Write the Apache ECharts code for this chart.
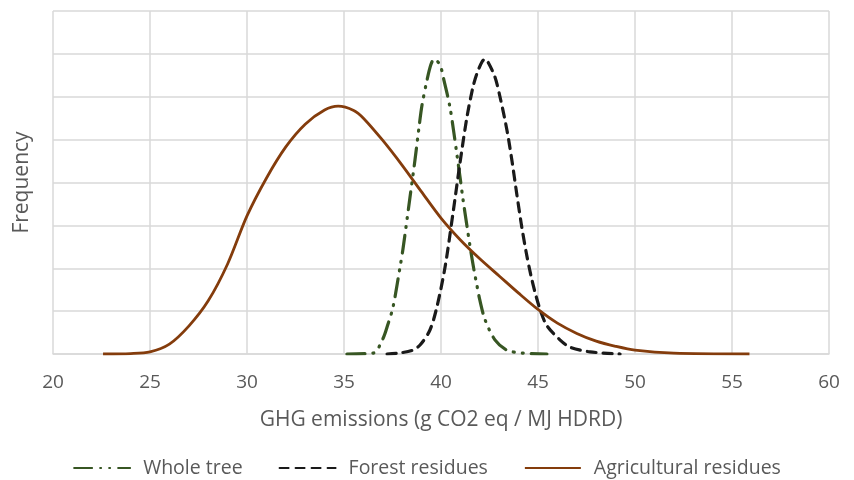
<!DOCTYPE html>
<html>
<head>
<meta charset="utf-8">
<script src="https://cdn.jsdelivr.net/npm/echarts@6/dist/echarts.min.js"></script>
<style>html,body{margin:0;padding:0;background:#fff}#c{width:854px;height:480px}</style>
</head>
<body>
<div id="c"></div>
<script>
const xTicks = [20, 25, 30, 35, 40, 45, 50, 55, 60];
const seriesNames = ['Whole tree', 'Forest residues', 'Agricultural residues'];
const wholeTree = [
  [35.15,0],[36.5,0.02],[37.0,0.35],[37.27,0.7],[37.53,1.1],[37.89,2.03],[38.04,2.45],[38.4,3.65],
  [38.66,4.53],[38.87,5.3],[39.02,5.8],[39.28,6.39],[39.48,6.75],[39.65,6.88],[39.95,6.74],[40.15,6.39],
  [40.46,5.76],[40.67,5.14],[40.83,4.62],[40.98,4.13],[41.13,3.62],[41.34,2.98],[41.5,2.5],
  [41.7,1.96],[41.86,1.58],[42.0,1.26],[42.27,0.8],[42.78,0.33],[43.4,0.09],[44.23,0.02],[45.46,0]
];
const forestResidues = [
  [37.22,0],[37.78,0.02],[38.5,0.08],[38.92,0.21],[39.43,0.56],[39.79,1.1],[40.21,2.03],[40.62,3.29],
  [40.98,4.46],[41.34,5.53],[41.65,6.23],[41.86,6.55],[42.11,6.81],
  [42.27,6.88],[42.42,6.81],[42.78,6.46],[43.04,6.0],[43.4,5.22],[43.66,4.5],[43.9,3.75],
  [44.15,3.0],[44.4,2.35],[44.65,1.8],[44.9,1.35],[45.15,0.98],[45.46,0.66],[46.13,0.33],[46.65,0.16],
  [47.68,0.05],[49.23,0]
];
const agriculturalResidues = [
  [22.58,0],[24,0.01],[25,0.05],[26,0.23],[27,0.65],[28,1.24],[29,2.1],[30,3.22],[31,4.1],[32,4.83],
  [33,5.36],[34,5.69],[34.7,5.78],[35.5,5.68],[36,5.5],[37,4.98],[38,4.4],[39,3.78],[40,3.17],[41,2.66],
  [42,2.22],[43,1.82],[44,1.42],[45,1.04],[46,0.72],[47,0.48],[48,0.3],[49,0.18],[50,0.09],[52,0.02],[55.9,0]
];

const chart = echarts.init(document.getElementById('c'), null, {renderer: 'canvas'});
const font = 'Open Sans';
const grey = '#595959';
chart.setOption({
  animation: false,
  textStyle: {fontFamily: font},
  grid: {left: 53, right: 25, top: 11, bottom: 126, containLabel: false},
  legend: {
    top: 453, left: 'center',
    itemWidth: 56, itemHeight: 14, itemGap: 36,
    itemStyle: {opacity: 0},
    textStyle: {fontFamily: font, fontSize: 19.5, color: grey, padding: [0, 0, 0, 8]},
    data: seriesNames
  },
  xAxis: {
    type: 'value', min: xTicks[0], max: xTicks[xTicks.length - 1], interval: 5,
    name: 'GHG emissions (g CO2 eq / MJ HDRD)', nameLocation: 'middle', nameGap: 56,
    nameTextStyle: {fontFamily: font, fontSize: 21, color: grey},
    axisLine: {show: true, lineStyle: {color: '#d9d9d9', width: 1.5}},
    axisTick: {show: false},
    axisLabel: {fontFamily: font, fontSize: 19, color: grey, margin: 19},
    splitLine: {show: true, lineStyle: {color: '#d9d9d9', width: 1.5}}
  },
  yAxis: {
    type: 'value', min: 0, max: 8, interval: 1,
    name: 'Frequency', nameLocation: 'middle', nameGap: 20, nameRotate: 90,
    nameTextStyle: {fontFamily: font, fontSize: 21, color: grey},
    axisLine: {show: false}, axisTick: {show: false}, axisLabel: {show: false},
    splitLine: {show: true, lineStyle: {color: '#d9d9d9', width: 1.5}}
  },
  series: [
    {
      name: seriesNames[0], type: 'line', data: wholeTree, smooth: 0.3, symbol: 'none',
      itemStyle: {color: '#375623'},
      lineStyle: {color: '#375623', width: 3.2, type: [18, 8, 1, 8, 1, 8], cap: 'round'}
    },
    {
      name: seriesNames[1], type: 'line', data: forestResidues, smooth: 0.3, symbol: 'none',
      itemStyle: {color: '#1a1a1a'},
      lineStyle: {color: '#1a1a1a', width: 3.2, type: [9, 7], cap: 'round'}
    },
    {
      name: seriesNames[2], type: 'line', data: agriculturalResidues, smooth: 0.3, symbol: 'none',
      itemStyle: {color: '#843c0c'},
      lineStyle: {color: '#843c0c', width: 2.8}
    }
  ]
});
</script>
</body>
</html>
